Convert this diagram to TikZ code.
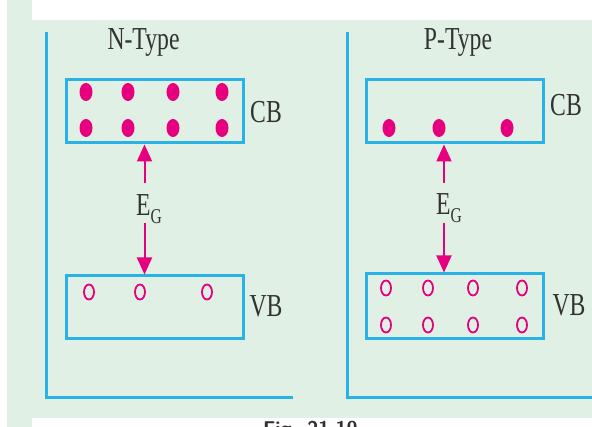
\documentclass[tikz,border=0pt]{standalone}
\usepackage{fontspec}
\setmainfont{Liberation Serif}
\newfontfamily\lbl[FakeStretch=0.74]{Liberation Serif}
\usetikzlibrary{arrows.meta}
\definecolor{bgreen}{RGB}{225,240,228}
\definecolor{bandblue}{RGB}{41,178,230}
\definecolor{carrier}{RGB}{230,0,126}
\definecolor{txt}{RGB}{50,50,50}
\tikzset{
  band/.style={draw=bandblue, line width=3pt, rectangle, minimum width=177pt, inner sep=0pt},
  axisline/.style={draw=bandblue, line width=3pt},
  lab/.style={font=\lbl\fontsize{32}{32}\selectfont, text=txt, inner sep=0pt},
  electron/.style={fill=carrier, draw=none},
  hole/.style={draw=carrier, line width=1.8pt},
  gaparrow/.style={draw=carrier, line width=2pt, -{Triangle[length=17pt,width=15pt]}},
}
\newcommand{\egap}{E\raisebox{-8pt}{\fontsize{21}{21}\selectfont G}}
\begin{document}
\begin{tikzpicture}[x=1pt,y=-1pt]
\useasboundingbox (0,0) rectangle (592,427);
\fill[white] (0,0) rectangle (592,427);
\fill[bgreen] (7,0) rectangle (32,427);
\fill[bgreen] (32,20) rectangle (592,418);
% axes
\draw[axisline] (46,32) -- (46,398) -- (293,398);
\draw[axisline] (347,32) -- (347,398) -- (592,398);
% titles
\node[lab, anchor=base] (ntitle) at (143.5,50) {N-Type};
\node[lab, anchor=base] (ptitle) at (458,50) {P-Type};
% N-type bands
\node[band, minimum height=63pt] (ncb) at (154.5,111.5) {};
\node[band, minimum height=63pt] (nvb) at (154.5,307.5) {};
\node[lab, anchor=base] (ncblab) at (266,123) {CB};
\node[lab, anchor=base] (nvblab) at (266,317) {VB};
% P-type bands
\node[band, minimum height=63pt] (pcb) at (454.5,111.5) {};
\node[band, minimum height=65pt] (pvb) at (454.5,306.5) {};
\node[lab, anchor=base] (pcblab) at (566,116) {CB};
\node[lab, anchor=base] (pvblab) at (569,316) {VB};
% electrons N-type CB
\foreach \x in {86,128,173,222}{
  \foreach \y in {92,128}{
    \fill[electron] (\x,\y) ellipse [x radius=6.5pt, y radius=9pt];
  }
}
% holes N-type VB
\foreach \x in {89,140,207}{
  \draw[hole] (\x,292) ellipse [x radius=5pt, y radius=7.5pt];
}
% electrons P-type CB
\foreach \x in {389,439,507}{
  \fill[electron] (\x,128) ellipse [x radius=6.5pt, y radius=9pt];
}
% holes P-type VB
\foreach \x in {386,428,473,522}{
  \foreach \y in {288,325}{
    \draw[hole] (\x,\y) ellipse [x radius=5pt, y radius=7.5pt];
  }
}
% energy gap labels and arrows
\node[lab, anchor=base west] (neg) at (136,216) {\egap};
\node[lab, anchor=base west] (peg) at (436,215) {\egap};
\coordinate (nup) at (144.5,183);
\coordinate (ndn) at (144.5,223);
\coordinate (pup) at (444,183);
\coordinate (pdn) at (444,223);
\draw[gaparrow] (nup) -- (nup |- ncb.south);
\draw[gaparrow] (ndn) -- (ndn |- nvb.north);
\draw[gaparrow] (pup) -- (pup |- pcb.south);
\draw[gaparrow] (pdn) -- (pdn |- pvb.north);
% caption (cut off at bottom edge)
\node[anchor=north west, inner sep=0pt, font=\sffamily\bfseries\fontsize{20}{20}\selectfont, text=txt] (fig) at (263,421) {Fig. 21.10};
\end{tikzpicture}
\end{document}
